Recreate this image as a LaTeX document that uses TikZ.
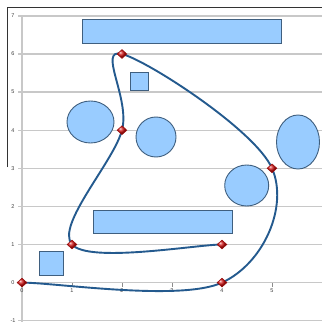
\documentclass[tikz,border=0pt]{standalone}
\usepackage{fontspec}
\setmainfont{Liberation Sans}
\usetikzlibrary{shapes.geometric}
\definecolor{gridgray}{HTML}{C8C8C8}
\definecolor{shapefill}{HTML}{99CCFF}
\definecolor{shapeline}{HTML}{3F5F7F}
\definecolor{curveblue}{HTML}{245A8E}
\definecolor{markred}{HTML}{D01010}
\begin{document}
\begin{tikzpicture}[x=1pt,y=1pt,
  gridline/.style={draw=gridgray,line width=1.3pt},
  tickmark/.style={draw=gridgray!70!black,line width=0.6pt},
  shapebox/.style={draw=shapeline,fill=shapefill,line width=0.9pt},
  ticklabel/.style={font=\fontsize{5.5}{6}\selectfont,text=black!75,inner sep=0pt},
  datapt/.style={diamond,ball color=markred,draw=markred!75!black,line width=0.5pt,minimum width=10pt,minimum height=9pt,inner sep=0pt},
  smoothline/.style={draw=curveblue,line width=1.9pt}]
\useasboundingbox (0,0) rectangle (322,-323);
\fill[white] (0,0) rectangle (322,-323);
% frame
\draw[black!80,line width=0.9pt] (7,-167) -- (7,-7) -- (322,-7);
% horizontal gridlines and y labels
\foreach \v in {-1,0,1,2,3,4,5,6,7} {
  \draw[gridline] (18,{-282.6+38.1*\v}) -- (322,{-282.6+38.1*\v});
  \node[ticklabel] (ylab\v) at (13,{-282.6+38.1*\v}) {\v};
}
% vertical axis
\draw[gridline] (22,-16) -- (22,-322);
% x ticks and labels
\foreach \u in {0,1,2,3,4,5} {
  \draw[tickmark] ({22+50*\u},-283) -- ({22+50*\u},-287);
  \node[ticklabel] (xlab\u) at ({22+50*\u},-291) {\u};
}
% shapes
\draw[shapebox] (82,-19) rectangle (281,-43);
\draw[shapebox] (130,-72) rectangle (148,-90);
\draw[shapebox] (90.5,-122) ellipse [x radius=23.5,y radius=21];
\draw[shapebox] (156,-137) ellipse [x radius=20,y radius=20];
\draw[shapebox] (298,-142) ellipse [x radius=21.5,y radius=27];
\draw[shapebox] (246.7,-185.5) ellipse [x radius=22,y radius=20.5];
\draw[shapebox] (93,-210) rectangle (232,-233);
\draw[shapebox] (39,-251) rectangle (63,-275);
% data curve
\begin{scope}[x=50pt,y=38.1pt,shift={(22pt,-282.6pt)}]
  \coordinate (p0) at (0,0);
  \coordinate (p1) at (4,0);
  \coordinate (p2) at (5,3);
  \coordinate (p3) at (2,6);
  \coordinate (p4) at (2,4);
  \coordinate (p5) at (1,1);
  \coordinate (p6) at (4,1);
  \draw[smoothline] (p0) .. controls (0.667,0) and (3.167,-0.5) .. (p1)
     .. controls (4.833,0.5) and (5.333,2) .. (p2)
     .. controls (4.667,4) and (2.5,5.833) .. (p3)
     .. controls (1.5,6.167) and (2.167,4.833) .. (p4)
     .. controls (1.833,3.167) and (0.667,1.5) .. (p5)
     .. controls (1.333,0.5) and (3.5,1) .. (p6);
  \foreach \i in {0,...,6} \node[datapt] (m\i) at (p\i) {};
\end{scope}
\end{tikzpicture}
\end{document}
